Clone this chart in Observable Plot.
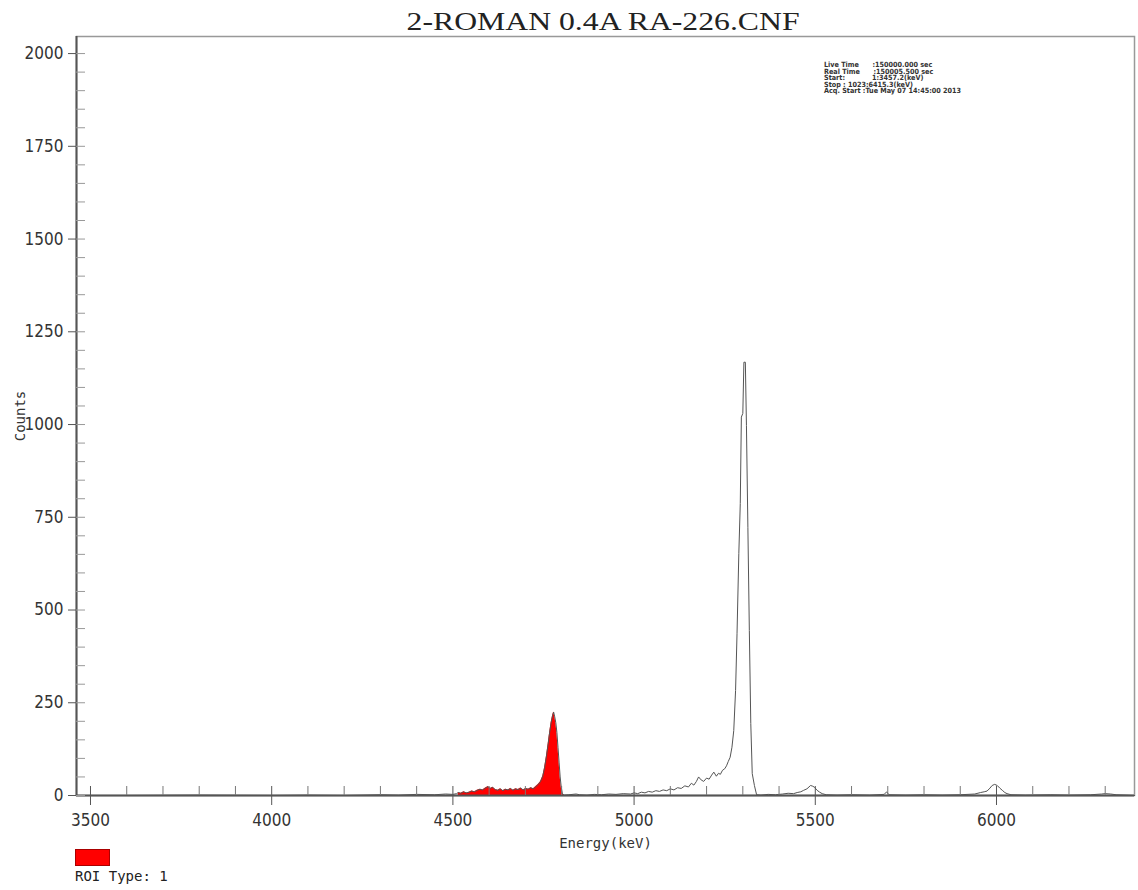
<!DOCTYPE html>
<html>
<head>
<meta charset="utf-8">
<script src="https://cdn.jsdelivr.net/npm/d3@7"></script>
<script src="https://cdn.jsdelivr.net/npm/@observablehq/plot@0.6"></script>
<style>
  body { margin: 0; background: #fff; }
  #wrap { position: relative; width: 1138px; height: 890px; overflow: hidden; }
  #chart { position: absolute; left: 0; top: 0; }
  #chart svg { font-stretch: condensed; }
  #title { position: absolute; left: 0; top: 7px; width: 1207px; text-align: center;
           font-family: "Liberation Serif", "Times New Roman", serif; font-size: 26px; color: #222; }
  #title span { display: inline-block; transform: scaleX(1.22); }
  #info { position: absolute; left: 824px; top: 62px; font-family: "DejaVu Sans Condensed", "DejaVu Sans", sans-serif; font-stretch: condensed;
          font-size: 7.2px; line-height: 6.5px; font-weight: bold; color: #333; white-space: pre; }
  #legend { position: absolute; left: 75px; top: 849px; font-family: "DejaVu Sans Mono", monospace; font-size: 14px; color: #222; }
  #legend .sw { width: 35px; height: 17px; background: #ff0000; border: 1px solid #a00; box-sizing: border-box; }
  #legend .lab { margin-top: 2px; line-height: 16px; }
  g[aria-label="x-axis label"] text, g[aria-label="y-axis label"] text { font-family: "DejaVu Sans Mono", monospace; font-size: 14px; font-stretch: normal; }
</style>
</head>
<body>
<div id="wrap">
  <div id="chart"></div>
  <div id="title"></div>
  <div id="info"></div>
  <div id="legend"><div class="sw"></div><div class="lab"></div></div>
</div>
<script>
const chartTitle = "2-ROMAN 0.4A RA-226.CNF";
const infoLines = [
  "Live Time      :150000.000 sec",
  "Real Time      :150005.500 sec",
  "Start:            1:3457.2(keV)",
  "Stop : 1023:6415.3(keV)",
  "Acq. Start :Tue May 07 14:45:00 2013"
];
const legendLabel = "ROI Type: 1";
const xLabel = "Energy(keV)";
const yLabel = "Counts";

const xDomain = [3461.4, 6380.8];
const yDomain = [0, 2046];
const roiStart = 4512;
const roiEnd = 4806;

const xMajorTicks = [3500, 4000, 4500, 5000, 5500, 6000];
const xMinorTicks = [3600, 3700, 3800, 3900, 4100, 4200, 4300, 4400, 4600, 4700, 4800, 4900,
                     5100, 5200, 5300, 5400, 5600, 5700, 5800, 5900, 6100, 6200, 6300];
const yMajorTicks = [0, 250, 500, 750, 1000, 1250, 1500, 1750, 2000];
const yMinorTicks = [50, 100, 150, 200, 300, 350, 400, 450, 550, 600, 650, 700, 800, 850, 900, 950,
                     1050, 1100, 1150, 1200, 1300, 1350, 1400, 1450, 1550, 1600, 1650, 1700,
                     1800, 1850, 1900, 1950];

// spectrum (keV, counts)
const energy = [
  3461, 3600, 3800, 4000, 4100, 4200, 4300, 4350, 4400, 4450, 4480, 4500, 4510,
  4515, 4522, 4530, 4537, 4545, 4552, 4560, 4567, 4575, 4582, 4590, 4597, 4603, 4610, 4617, 4624,
  4631, 4638, 4645, 4652, 4659, 4666, 4673, 4680, 4687, 4694, 4701, 4708, 4715, 4722, 4729, 4736,
  4742, 4748, 4753, 4758, 4763, 4767, 4771, 4775, 4778, 4781, 4784, 4787, 4790, 4793, 4796, 4799,
  4802, 4806,
  4820, 4840, 4850, 4870, 4890, 4910, 4930, 4950, 4970, 4990, 5000, 5010, 5020, 5030, 5040, 5050,
  5060, 5070, 5080, 5090, 5100, 5110, 5120, 5130, 5140, 5150, 5158, 5165, 5172, 5178, 5185, 5192,
  5200, 5207, 5214, 5220, 5227, 5233, 5238, 5244, 5250, 5255, 5260, 5265, 5270, 5275, 5280, 5284,
  5289, 5293, 5296, 5300, 5303, 5307, 5310, 5314, 5318, 5322, 5326, 5332, 5338,
  5350, 5370, 5390, 5410, 5425, 5440, 5450, 5460, 5468, 5477, 5487, 5493, 5498, 5505, 5512, 5519,
  5530, 5560, 5600, 5650, 5690, 5697, 5703, 5750, 5800, 5850, 5900, 5940, 5956, 5966, 5974, 5982,
  5988, 5995, 6002, 6009, 6016, 6023, 6029, 6040, 6080, 6150, 6200, 6260, 6290, 6300, 6315, 6330,
  6360, 6381
];
const counts = [
  0, 0, 1, 0, 1, 0, 2, 1, 3, 2, 4, 3, 5,
  8, 6, 10, 7, 9, 12, 10, 14, 17, 15, 20, 24, 19, 22, 16, 14,
  18, 13, 17, 15, 19, 14, 18, 16, 20, 15, 19, 17, 21, 18, 24, 30,
  38, 52, 75, 105, 140, 170, 196, 215, 225, 212, 196, 170, 130, 90, 50, 22,
  6, 1,
  2, 4, 2, 1, 3, 2, 4, 3, 5, 4, 7, 5, 9, 7, 11, 9,
  13, 11, 15, 13, 18, 15, 21, 19, 26, 23, 33, 28, 38, 50, 42, 38,
  47, 44, 55, 63, 52, 60, 57, 68, 72, 80, 92, 103, 130, 175, 283, 436,
  652, 787, 1020, 1030, 1168, 1168, 997, 723, 445, 194, 59, 27, 2,
  1, 3, 2, 4, 6, 5, 8, 10, 14, 18, 27, 25, 22, 14, 9, 5,
  2, 1, 2, 1, 3, 10, 2, 1, 2, 1, 2, 4, 8, 10, 12, 20,
  27, 30, 27, 20, 14, 8, 5, 2, 1, 2, 1, 2, 4, 5, 4, 2,
  1, 0
];

const spectrum = energy.map((e, i) => ({energy: e, counts: counts[i]}));
const roi = spectrum.filter(d => d.energy >= roiStart && d.energy <= roiEnd);

const fmt = d => String(d);

const plot = Plot.plot({
  width: 1138,
  height: 860,
  marginTop: 36,
  marginLeft: 76,
  marginRight: 4,
  marginBottom: 65,
  style: {fontFamily: '"DejaVu Sans Condensed", "DejaVu Sans", sans-serif', fontSize: "17px", color: "#333", background: "#fff"},
  x: {domain: xDomain},
  y: {domain: yDomain},
  marks: [
    Plot.frame({stroke: "#999", strokeWidth: 1.5}),
    Plot.areaY(roi, {x: "energy", y: "counts", fill: "#ff0000"}),
    Plot.line(spectrum, {x: "energy", y: "counts", stroke: "#555", strokeWidth: 1}),
    Plot.ruleY([yDomain[0]], {stroke: "#555", strokeWidth: 2}),
    Plot.ruleX([xDomain[0]], {stroke: "#555", strokeWidth: 2}),
    Plot.axisX({ticks: xMajorTicks, tickSize: 10, tickPadding: 8, tickFormat: fmt, stroke: "#555",
                label: xLabel, labelArrow: "none", labelAnchor: "center", labelOffset: 52}),
    Plot.axisX({ticks: xMajorTicks, tickSize: -9, text: null, label: null, stroke: "#555"}),
    Plot.axisX({ticks: xMinorTicks, tickSize: -9, text: null, label: null, stroke: "#777"}),
    Plot.axisY({ticks: yMajorTicks, tickSize: 8, tickPadding: 5, tickFormat: fmt, stroke: "#555",
                label: yLabel, labelArrow: "none", labelAnchor: "center", labelOffset: 61}),
    Plot.axisY({ticks: yMajorTicks, tickSize: -9, text: null, label: null, stroke: "#999"}),
    Plot.axisY({ticks: yMinorTicks, tickSize: -9, text: null, label: null, stroke: "#999"})
  ]
});
document.getElementById("chart").appendChild(plot);
const ts = document.createElement("span");
ts.textContent = chartTitle;
document.querySelector("#title").appendChild(ts);
document.getElementById("info").textContent = infoLines.join("\n");
document.querySelector("#legend .lab").textContent = legendLabel;
</script>
</body>
</html>
